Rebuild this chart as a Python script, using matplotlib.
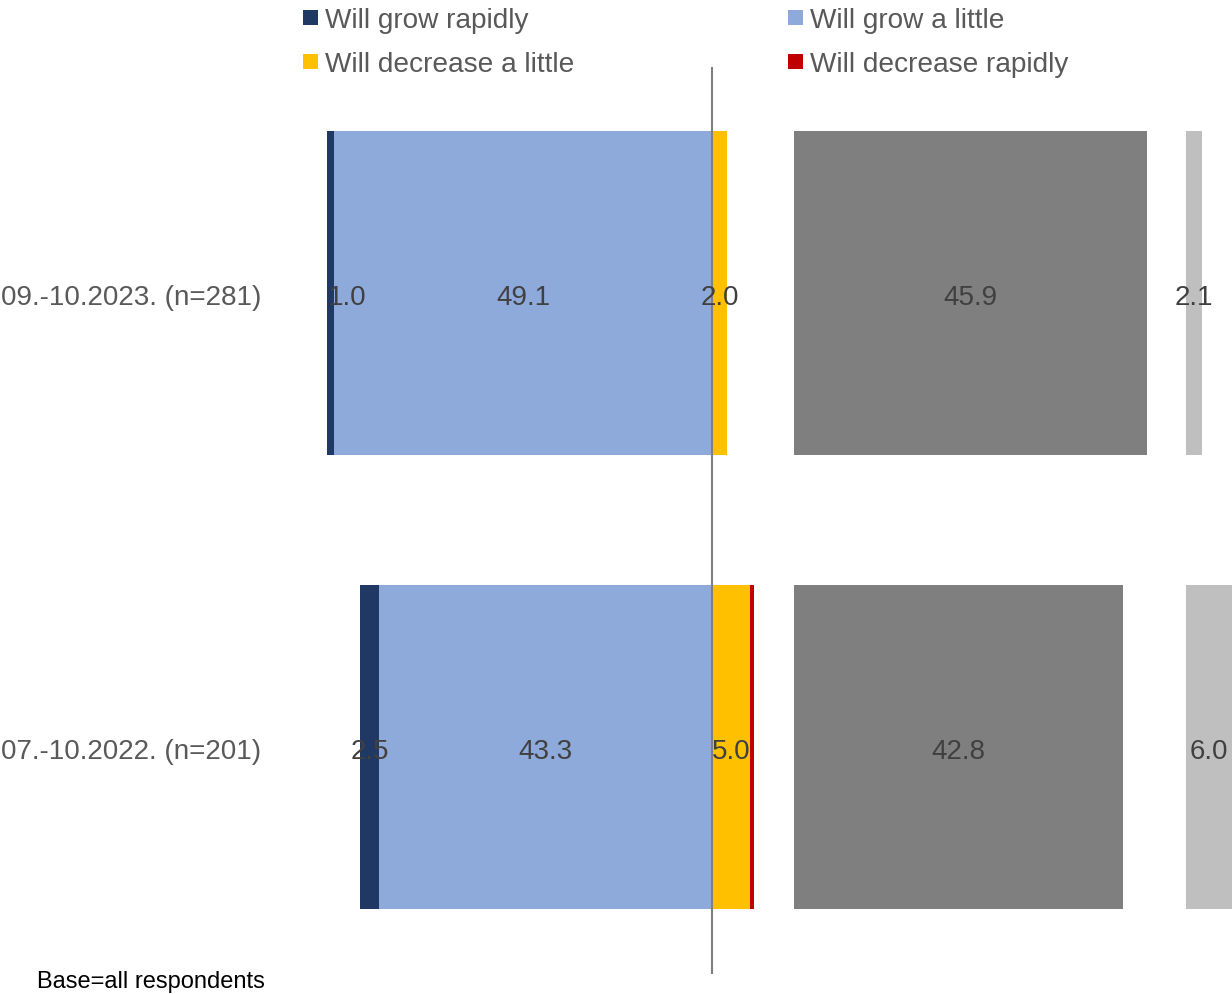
import matplotlib
matplotlib.use("Agg")
import matplotlib.pyplot as plt
from matplotlib.patches import Rectangle
from matplotlib.transforms import offset_copy

plt.rcParams['font.family'] = ['Liberation Sans', 'DejaVu Sans']

categories = ["09.-10.2023. (n=281)", "07.-10.2022. (n=201)"]
grow_rapidly = [1.0, 2.5]
grow_little = [49.1, 43.3]
decrease_little = [2.0, 5.0]
decrease_rapidly = [0.0, 0.5]
stay_same = [45.9, 42.8]
dont_know = [2.1, 6.0]

legend_labels = ["Will grow rapidly", "Will grow a little",
                 "Will decrease a little", "Will decrease rapidly"]
colors = {
    "grow_rapidly": "#1f3864",
    "grow_little": "#8eaadb",
    "decrease_little": "#ffc000",
    "decrease_rapidly": "#c00000",
    "stay_same": "#7f7f7f",
    "dont_know": "#bfbfbf",
}
legend_colors = [colors["grow_rapidly"], colors["grow_little"],
                 colors["decrease_little"], colors["decrease_rapidly"]]

W, H = 1232, 995
fig = plt.figure(figsize=(W / 100, H / 100), dpi=100)

# axes geometry in pixels
px_per_unit = 7.69
zero_px = 712
ax_left_px, ax_right_px = 300, 1232
ax_top_px, ax_bot_px = 67.5, 974.5
ax = fig.add_axes([ax_left_px / W, 1 - ax_bot_px / H,
                   (ax_right_px - ax_left_px) / W, (ax_bot_px - ax_top_px) / H])
ax.set_xlim((ax_left_px - zero_px) / px_per_unit, (ax_right_px - zero_px) / px_per_unit)
ax.set_ylim(1.5, -0.5)
ax.axis("off")

txt_tr = offset_copy(ax.transData, fig=fig, x=0, y=-4, units="dots")

y = list(range(len(categories)))
bh = 0.715
same_start = 10.66
dk_start = 61.64
label_color = "#404040"
fs_val = 20

for i in y:
    gr, gl = grow_rapidly[i], grow_little[i]
    dl, dr = decrease_little[i], decrease_rapidly[i]
    # left side: growth
    ax.barh(i, -gl, left=0, height=bh, color=colors["grow_little"], lw=0)
    ax.barh(i, -gr, left=-gl, height=bh, color=colors["grow_rapidly"], lw=0)
    # right side: decrease
    ax.barh(i, dl, left=0, height=bh, color=colors["decrease_little"], lw=0)
    if dr > 0:
        ax.barh(i, dr, left=dl, height=bh, color=colors["decrease_rapidly"], lw=0)
    # stay the same / don't know
    ax.barh(i, stay_same[i], left=same_start, height=bh, color=colors["stay_same"], lw=0)
    ax.barh(i, dont_know[i], left=dk_start, height=bh, color=colors["dont_know"], lw=0)

    # value labels
    kw = dict(va="center", fontsize=fs_val, color=label_color, transform=txt_tr)
    ax.text(-gl / 2, i, f"{gl:.1f}", ha="center", **kw)
    if i == 0:
        ax.text(-gl - gr + 0.2, i, f"{gr:.1f}", ha="left", **kw)
    else:
        ax.text(-gl - gr / 2, i, f"{gr:.1f}", ha="center", **kw)
    ax.text(dl / 2, i, f"{dl:.1f}", ha="center", **kw)
    ax.text(same_start + stay_same[i] / 2, i, f"{stay_same[i]:.1f}", ha="center", **kw)
    ax.text(dk_start + dont_know[i] / 2, i, f"{dont_know[i]:.1f}", ha="center",
            clip_on=False, **kw)

    # category labels
    cy = ax_top_px + (i + 0.5) * (ax_bot_px - ax_top_px) / 2 + 4
    fig.text(261 / W, 1 - cy / H, categories[i], ha="right", va="center",
             fontsize=20, color="#595959")

ax.axvline(0, color="#7f7f7f", lw=1.5)

# legend
leg_pos = [(303, 18), (788, 18), (303, 62), (788, 62)]
sq = 15
for (lx, ly), lab, c in zip(leg_pos, legend_labels, legend_colors):
    fig.patches.append(Rectangle((lx / W, 1 - (ly + sq / 2) / H), sq / W, sq / H,
                                 transform=fig.transFigure, color=c, lw=0))
    fig.text((lx + 22) / W, 1 - (ly + 3) / H, lab, ha="left", va="center",
             fontsize=20.2, color="#595959")

fig.text(37 / W, 1 - 982 / H, "Base=all respondents", ha="left", va="center",
         fontsize=17, color="black")

fig.savefig("out.png", dpi=100)
